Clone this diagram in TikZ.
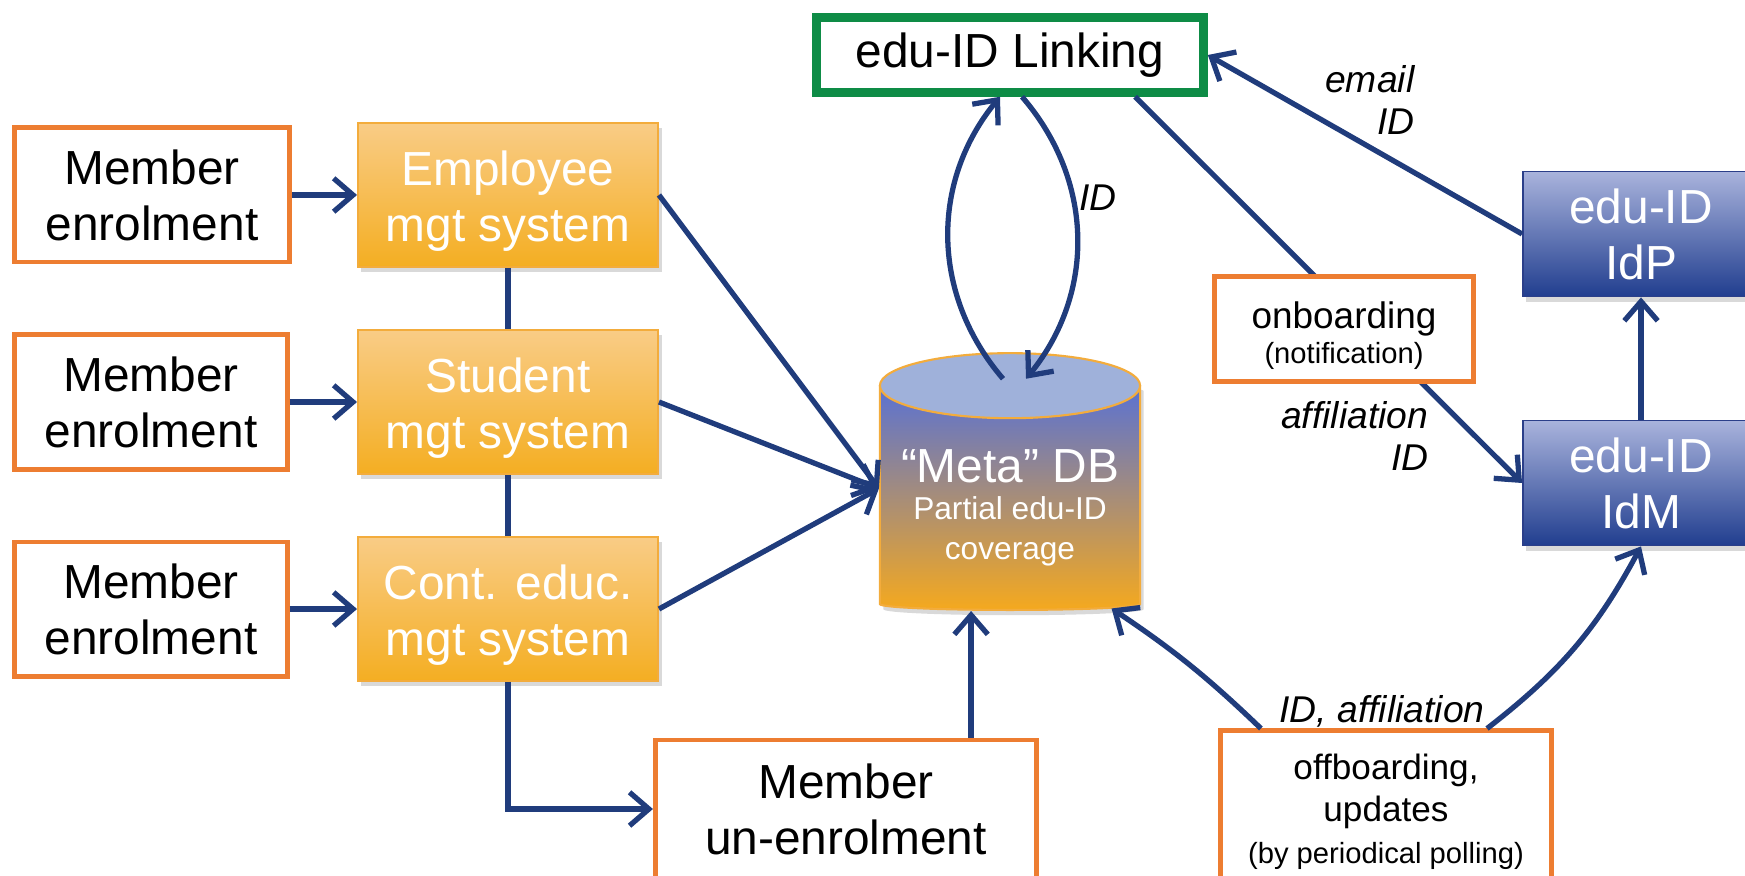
\documentclass[tikz,border=0pt]{standalone}
\usepackage{fontspec}
\setmainfont{Liberation Sans}
\definecolor{EduNavy}{HTML}{203C7C}
\definecolor{EduOrange}{HTML}{ED7D31}
\definecolor{EduGreen}{HTML}{0E8C46}
\definecolor{EduGoldTop}{HTML}{F9CC86}
\definecolor{EduGoldBot}{HTML}{F4AE22}
\definecolor{EduGoldEdge}{HTML}{F3AC3C}
\definecolor{EduBlueTop}{HTML}{A9B3DC}
\definecolor{EduBlueBot}{HTML}{213E8F}
\definecolor{EduBlueEdge}{HTML}{2B3F89}
\definecolor{EduDbCap}{HTML}{9FB1DA}
\definecolor{EduDbTop}{HTML}{5570D8}
\definecolor{EduDbMid}{HTML}{9E8FA4}
\definecolor{EduDbBot}{HTML}{F5A91E}
\usepackage{xcolor}
\usepackage{tikz}
\usetikzlibrary{arrows.meta,shapes.geometric,shadows,calc}

\begin{document}
\begin{tikzpicture}[x=0.01cm,y=-0.01cm,font=\fontsize{13.6}{15.9}\selectfont,
  flow/.style={draw=EduNavy,line width=1.5pt,-{Straight Barb[length=5.5pt,width=9.5pt]}},
  wire/.style={draw=EduNavy,line width=1.5pt},
  plain/.style={draw=EduOrange,line width=1.4pt,fill=white,align=center},
  shade box/.style={drop shadow={shadow xshift=1pt,shadow yshift=-1.5pt,opacity=0.3}},
  gold/.style={draw=EduGoldEdge,line width=0.5pt,top color=EduGoldTop,bottom color=EduGoldBot,
    text=white,align=center,minimum width=3cm,minimum height=1.44cm,shade box},
  navy/.style={draw=EduBlueEdge,line width=0.5pt,top color=EduBlueTop,bottom color=EduBlueBot,
    text=white,align=center,minimum width=2.36cm,minimum height=1.25cm,shade box},
  dbcyl/.style={cylinder,shape border rotate=90,aspect=0.5,minimum width=2.60cm,
    minimum height=2.30cm,draw=EduGoldEdge,line width=0.6pt,
    top color=EduDbTop,middle color=EduDbMid,bottom color=EduDbBot,shade box},
  dbcap/.style={fill=EduDbCap,draw=EduGoldEdge,line width=0.6pt},
  tag/.style={font=\fontsize{10.6}{12.2}\selectfont\itshape,inner sep=0pt}]

  \useasboundingbox (0,0) rectangle (1745,876);

  % Member enrolment
  \node[plain,minimum width=2.75cm,minimum height=1.34cm] (enrolA) at (152,195) {Member\\enrolment};
  \node[plain,minimum width=2.72cm,minimum height=1.34cm] (enrolB) at (151,402) {Member\\enrolment};
  \node[plain,minimum width=2.72cm,minimum height=1.34cm] (enrolC) at (151,609) {Member\\enrolment};

  % Management systems
  \node[gold] (employee) at (508,195) {\rule{0pt}{13.3pt}Employee\\mgt system};
  \node[gold] (student) at (508,402) {\rule{0pt}{13.3pt}Student\\mgt system};
  \node[gold] (conted) at (508,609) {\rule{0pt}{13.3pt}Cont. educ.\\mgt system};

  % Member un-enrolment
  \node[plain,minimum width=3.81cm,minimum height=1.38cm] (unenrol) at (846,809) {Member\\un-enrolment};

  % "Meta" DB
  \node[dbcyl,anchor=south] (db) at (1010,611) {};
  \draw[dbcap] ($(db.before top)!0.5!(db.after top)$) ellipse [x radius=1.30cm,y radius=0.325cm];
  \coordinate (dbin) at ([yshift=0.11cm]db.west);
  \node[white,inner sep=0pt] (dbtitle) at (1010,466) {“Meta” DB};
  \node[white,align=center,inner sep=0pt,font=\fontsize{9}{11.4}\selectfont] (dbnote) at (1010,531) {Partial edu-ID\\coverage};

  % edu-ID Linking
  \node[draw=EduGreen,line width=2.4pt,fill=white,minimum width=3.87cm,minimum height=0.75cm] (link) at (1010,55) {edu-ID Linking};

  % edu-ID IdP / IdM
  \node[navy] (idp) at (1641,234) {edu-ID\\IdP};
  \node[navy] (idm) at (1641,483) {edu-ID\\IdM};

  % offboarding
  \node[plain,minimum width=3.30cm,minimum height=1.62cm,font=\fontsize{10}{12}\selectfont] (offboard) at (1386,812)
    {offboarding,\\updates\\{\fontsize{8.3}{10.8}\selectfont (by periodical polling)}};

  % Enrolment into the systems
  \draw[flow] (enrolA) -- (employee);
  \draw[flow] (enrolB) -- (student);
  \draw[flow] (enrolC) -- (conted);
  \draw[wire] (employee) -- (student);
  \draw[wire] (student) -- (conted);

  % Systems feeding the DB
  \draw[flow] (employee.east) -- (dbin);
  \draw[flow] (student.east) -- (dbin);
  \draw[flow] (conted.east) -- (dbin);
  \draw[flow] (conted.south) |- (unenrol.west);
  \coordinate (dbfoot) at ([xshift=1.25cm]unenrol.north);
  \draw[flow] (dbfoot) -- (dbfoot |- db.south);

  % DB <-> Linking
  \draw[flow] ([xshift=-0.07cm]db.top) to[bend left=40] ([xshift=-0.10cm]link.south);
  \draw[flow] ([xshift=0.12cm]link.south) to[bend left=40] ([xshift=0.16cm]db.top);
  \node[tag] (tagdb) at (1098,198) {ID};

  % IdP and IdM
  \draw[flow] (idp.west) -- (link.east);
  \node[tag,align=right,anchor=east] (tagidp) at (1415,100) {email\\ID};
  \draw[flow] ([xshift=1.25cm]link.south) -- (idm.west);
  \draw[flow] (idm) -- (idp);
  \node[tag,align=right,anchor=east] (tagidm) at (1429,436) {affiliation\\ID};

  % onboarding
  \node[plain,minimum width=2.58cm,minimum height=0.99cm,font=\fontsize{10.5}{10}\selectfont] (onboard) at (1344,329)
    {\rule{0pt}{11.5pt}onboarding\\{\fontsize{8.3}{10}\selectfont (notification)}};

  % offboarding back to DB and IdM
  \draw[flow] ([xshift=-1.25cm]offboard.north) to[bend right=5] (db.-47);
  \draw[flow] ([xshift=1.01cm]offboard.north) to[bend right=12] (idm.south);
  \node[tag] (tagoff) at (1382,711) {ID, affiliation};
\end{tikzpicture}
\end{document}
